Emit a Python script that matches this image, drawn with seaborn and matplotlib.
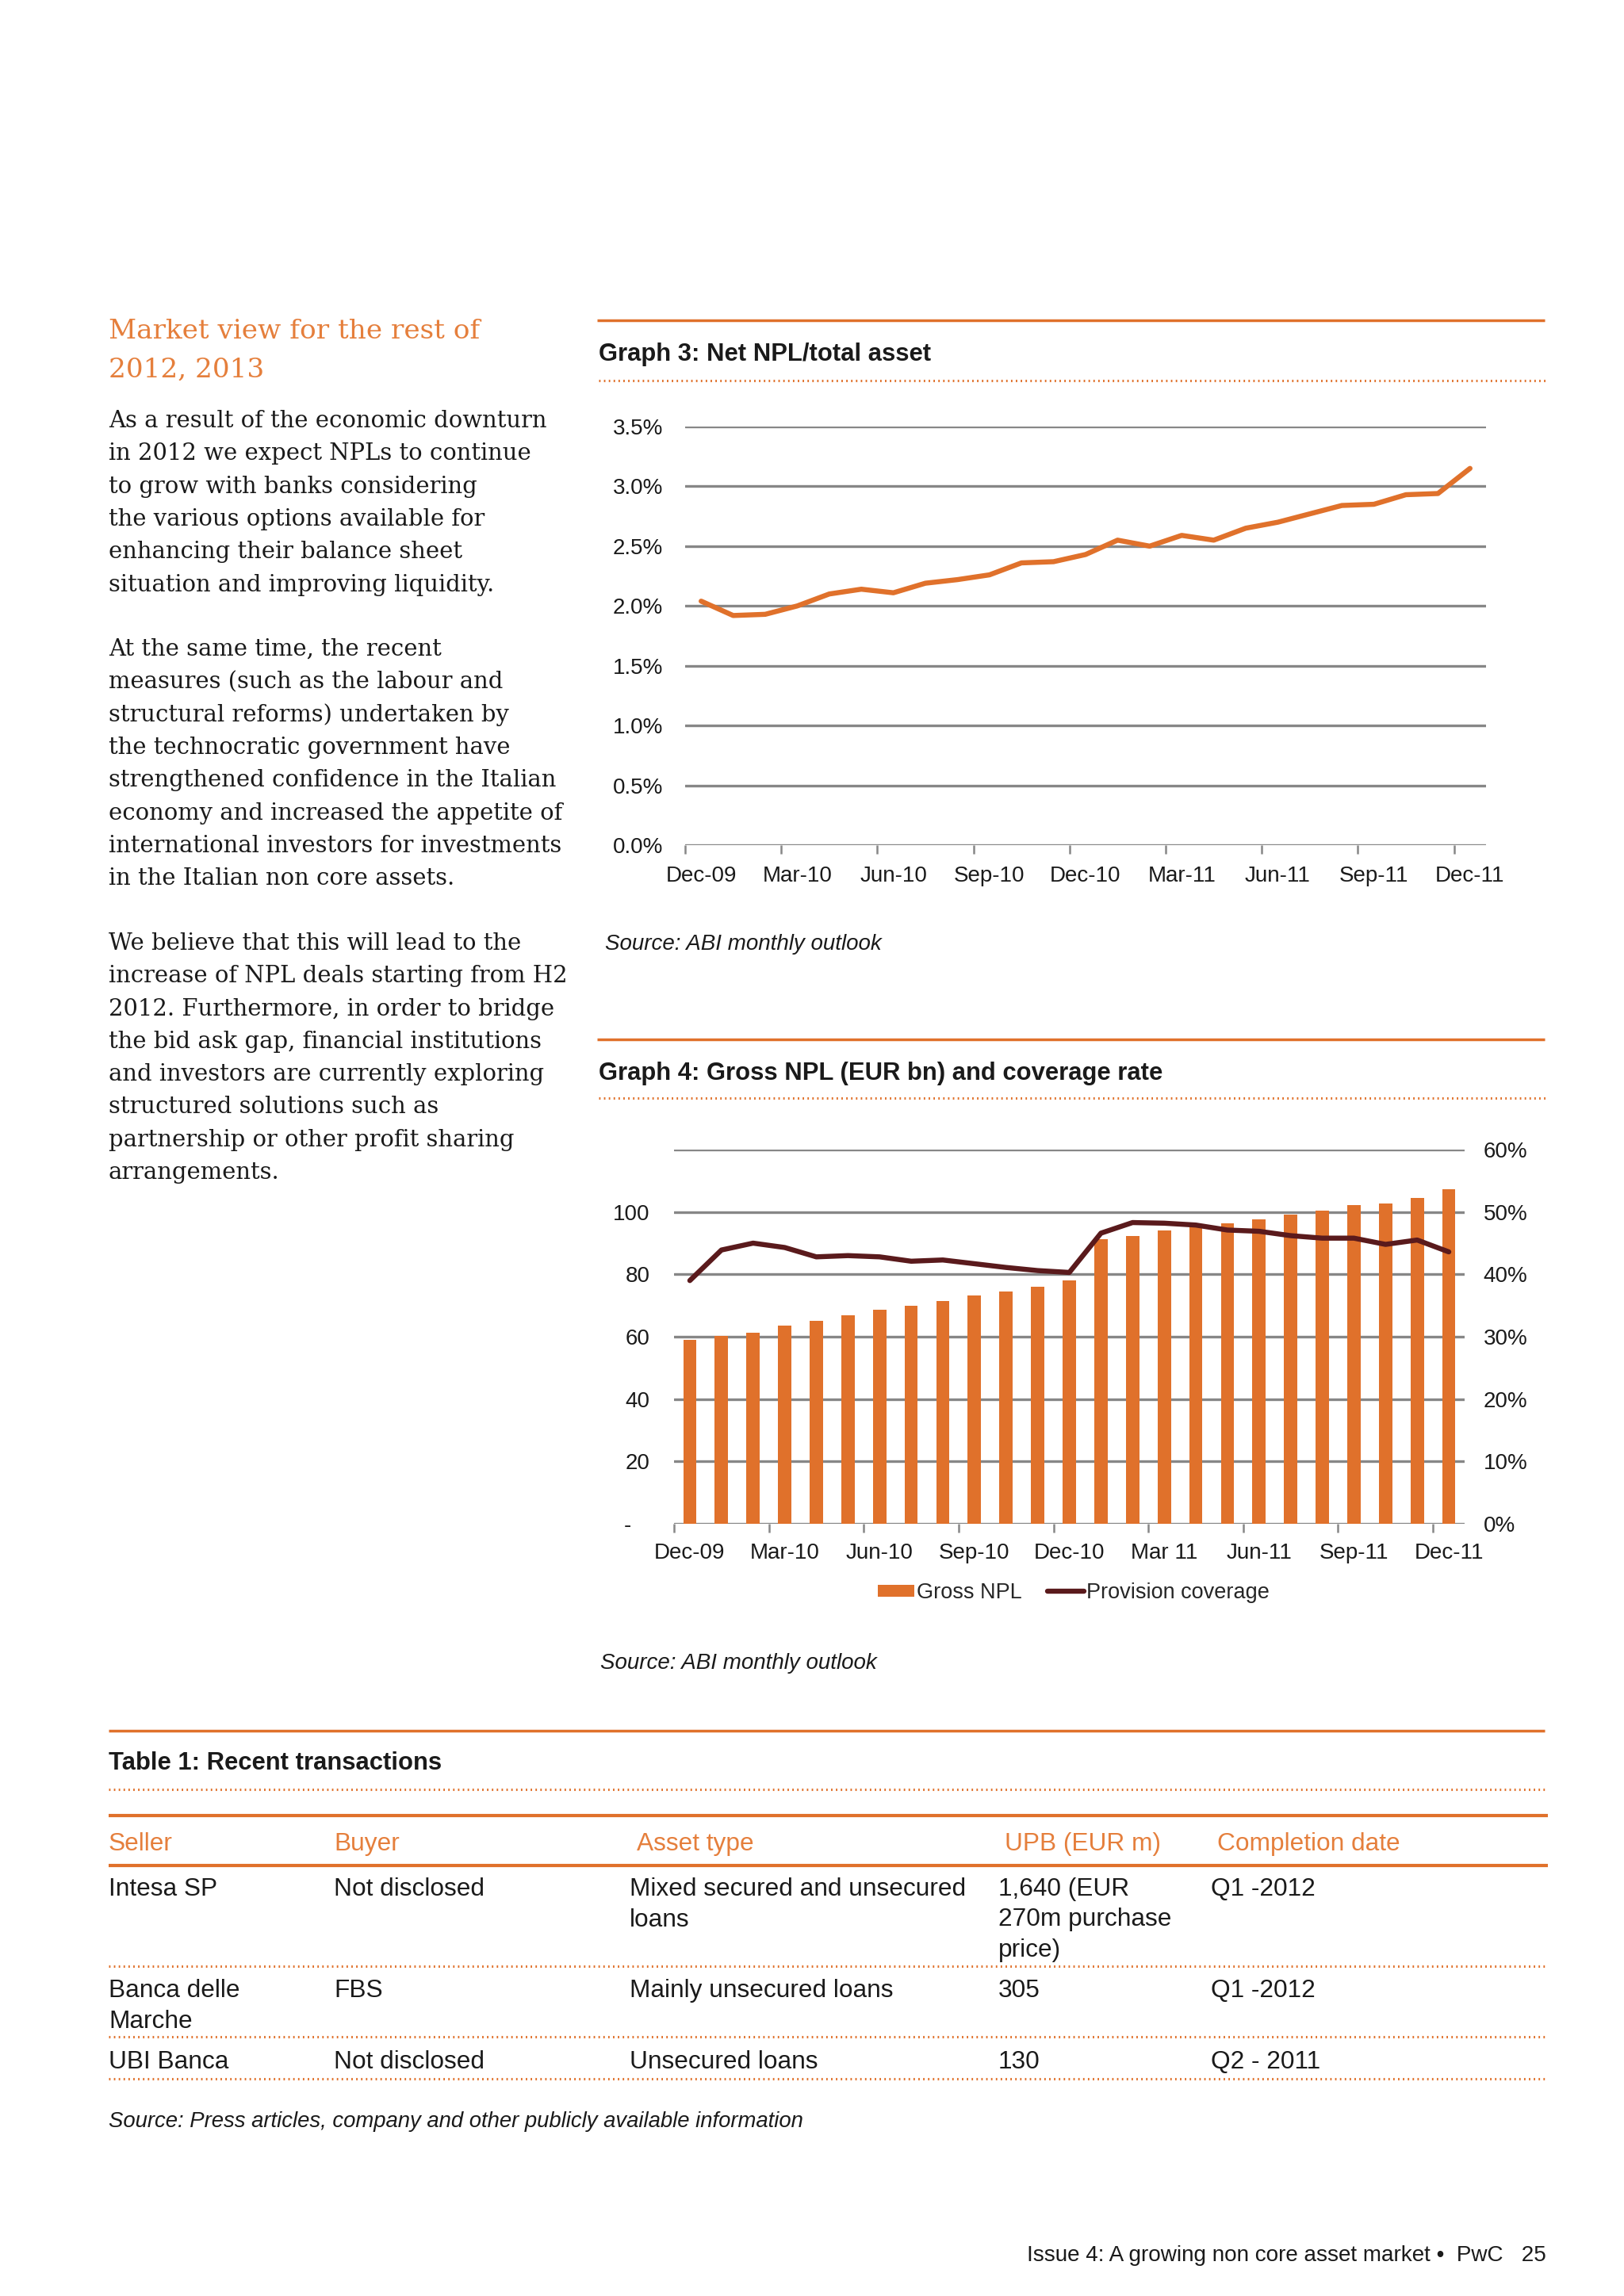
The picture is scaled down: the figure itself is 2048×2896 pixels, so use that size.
import matplotlib
matplotlib.use('Agg')
import matplotlib.pyplot as plt
import seaborn as sns
import numpy as np
import pandas as pd
from matplotlib.lines import Line2D
from matplotlib.patches import Patch

# ---- data ----
months = ['Dec-09', 'Jan-10', 'Feb-10', 'Mar-10', 'Apr-10', 'May-10', 'Jun-10',
          'Jul-10', 'Aug-10', 'Sep-10', 'Oct-10', 'Nov-10', 'Dec-10',
          'Jan-11', 'Feb-11', 'Mar-11', 'Apr-11', 'May-11', 'Jun-11',
          'Jul-11', 'Aug-11', 'Sep-11', 'Oct-11', 'Nov-11', 'Dec-11']

# Graph 3: net NPL / total asset (%)
npl_ratio = [2.04, 1.92, 1.93, 2.00, 2.10, 2.14, 2.11, 2.19, 2.22, 2.26, 2.36, 2.37,
             2.43, 2.55, 2.50, 2.59, 2.55, 2.65, 2.70, 2.77, 2.84, 2.85, 2.93, 2.94, 3.15]
g3_ticks = ['Dec-09', 'Mar-10', 'Jun-10', 'Sep-10', 'Dec-10',
            'Mar-11', 'Jun-11', 'Sep-11', 'Dec-11']
g3_yticks = [0.0, 0.5, 1.0, 1.5, 2.0, 2.5, 3.0, 3.5]

# Graph 4: gross NPL (EUR bn) and provision coverage (%)
gross_npl = [59.1, 60.2, 61.3, 63.6, 65.0, 66.9, 68.7, 70.0, 71.4, 73.2, 74.5, 75.9,
             78.1, 91.3, 92.3, 94.1, 95.5, 96.4, 97.7, 99.1, 100.4, 102.3, 102.8, 104.5, 107.3]
coverage = [39.0, 43.9, 45.0, 44.3, 42.8, 43.0, 42.8, 42.1, 42.3, 41.7, 41.1, 40.6,
            40.3, 46.6, 48.3, 48.2, 47.9, 47.1, 46.9, 46.2, 45.8, 45.8, 44.8, 45.5, 43.6]
g4_ticks = ['Dec-09', 'Mar-10', 'Jun-10', 'Sep-10', 'Dec-10',
            'Mar 11', 'Jun-11', 'Sep-11', 'Dec-11']
g4_left_ticks = [0, 20, 40, 60, 80, 100, 120]
g4_left_labels = ['-   ', '20', '40', '60', '80', '100', '']
g4_right_ticks = [0, 10, 20, 30, 40, 50, 60]

# Table 1
table_header = ['Seller', 'Buyer', 'Asset type', 'UPB (EUR m)', 'Completion date']
table_rows = [
    [['Intesa SP'], ['Not disclosed'], ['Mixed secured and unsecured', 'loans'],
     ['1,640 (EUR', '270m purchase', 'price)'], ['Q1 -2012']],
    [['Banca delle', 'Marche'], ['FBS'], ['Mainly unsecured loans'], ['305'], ['Q1 -2012']],
    [['UBI Banca'], ['Not disclosed'], ['Unsecured loans'], ['130'], ['Q2 - 2011']],
]

heading = ['Market view for the rest of', '2012, 2013']
para1 = ['As a result of the economic downturn',
         'in 2012 we expect NPLs to continue',
         'to grow with banks considering',
         'the various options available for',
         'enhancing their balance sheet',
         'situation and improving liquidity.']
para2 = ['At the same time, the recent',
         'measures (such as the labour and',
         'structural reforms) undertaken by',
         'the technocratic government have',
         'strengthened confidence in the Italian',
         'economy and increased the appetite of',
         'international investors for investments',
         'in the Italian non core assets.']
para3 = ['We believe that this will lead to the',
         'increase of NPL deals starting from H2',
         '2012. Furthermore, in order to bridge',
         'the bid ask gap, financial institutions',
         'and investors are currently exploring',
         'structured solutions such as',
         'partnership or other profit sharing',
         'arrangements.']

# ---- style ----
ORANGE = '#E0712B'
HEAD_ORANGE = '#E57F3C'
DARK = '#5A1A1C'
GRID = '#878787'
TEXT = '#1A1A1A'
SANS = ['Liberation Sans', 'DejaVu Sans']
SERIF = ['DejaVu Serif']

sns.set_style('white')
plt.rcParams['font.family'] = SANS

W, H = 2048, 2896
fig = plt.figure(figsize=(W / 100, H / 100), dpi=100)
fig.patch.set_facecolor('white')


def fx(x):
    return x / W


def fy(y):
    return 1 - y / H


def box(l, t, r, b):
    return [l / W, 1 - b / H, (r - l) / W, (b - t) / H]


def hline(x0, x1, y, dotted=False, lw=2.5):
    ls = (0, (0.6, 1.4)) if dotted else '-'
    fig.add_artist(Line2D([fx(x0), fx(x1)], [fy(y), fy(y)], color=ORANGE,
                          lw=lw if not dotted else 2.2, ls=ls,
                          solid_capstyle='butt'))


def lines_at(lines, x, y0, dy, **kw):
    for i, s in enumerate(lines):
        fig.text(fx(x), fy(y0 + i * dy), s, va='center', ha='left', **kw)


def style_cat_axis(ax, labels, pad=20):
    n = len(months)
    ax.set_xlim(-0.5, n - 0.5)
    ax.set_xticks(np.arange(0, n, 3))
    ax.set_xticklabels(labels)
    ax.set_xticks(np.arange(-0.5, n - 1, 3), minor=True)
    ax.tick_params(axis='x', which='major', length=0, pad=pad, labelsize=20, colors=TEXT)
    ax.tick_params(axis='x', which='minor', length=8, width=1.8, color=GRID, bottom=True)
    ax.set_xlabel('')
    for s in ax.spines.values():
        s.set_visible(False)
    ax.yaxis.grid(True, color=GRID, lw=2.4)
    ax.xaxis.grid(False)
    ax.set_axisbelow(True)


# ---- left column text ----
lines_at(heading, 137, 418, 49, family=SERIF, fontsize=24.7, color=HEAD_ORANGE)
lines_at(para1, 137, 531, 41.3, family=SERIF, fontsize=20.9, color=TEXT)
lines_at(para2, 137, 819, 41.3, family=SERIF, fontsize=20.9, color=TEXT)
lines_at(para3, 137, 1190, 41.3, family=SERIF, fontsize=20.9, color=TEXT)

# ---- Graph 3 ----
hline(753, 1948, 404)
fig.text(fx(755), fy(447), 'Graph 3: Net NPL/total asset', fontsize=22.3,
         fontweight='bold', va='center', color=TEXT)
hline(755, 1952, 480, dotted=True)

df3 = pd.DataFrame({'pos': np.arange(len(months)), 'ratio': npl_ratio})
ax3 = fig.add_axes(box(864, 538, 1874, 1066))
sns.lineplot(data=df3, x='pos', y='ratio', ax=ax3, color=ORANGE, lw=4.6)
ax3.set_ylim(0, 3.5)
ax3.set_yticks(g3_yticks)
ax3.set_yticklabels([f'{v:.1f}%' for v in g3_yticks])
ax3.tick_params(axis='y', length=0, pad=20, labelsize=20, colors=TEXT)
ax3.set_ylabel('')
style_cat_axis(ax3, g3_ticks, pad=19)

fig.text(fx(763), fy(1191), 'Source: ABI monthly outlook', fontsize=20,
         style='italic', va='center', color=TEXT)

# ---- Graph 4 ----
hline(753, 1948, 1311)
fig.text(fx(755), fy(1354), 'Graph 4: Gross NPL (EUR bn) and coverage rate', fontsize=22.3,
         fontweight='bold', va='center', color=TEXT)
hline(755, 1952, 1385, dotted=True)

df4 = pd.DataFrame({'pos': np.arange(len(months)), 'npl': gross_npl, 'cov': coverage})
ax4 = fig.add_axes(box(850, 1450, 1847, 1922))
sns.barplot(data=df4, x='pos', y='npl', ax=ax4, native_scale=True, width=0.42,
            color=ORANGE, saturation=1, edgecolor='none')
ax4.set_ylim(0, 120)
ax4.set_yticks(g4_left_ticks)
ax4.set_yticklabels(g4_left_labels)
ax4.tick_params(axis='y', length=0, pad=22, labelsize=20, colors=TEXT)
ax4.set_ylabel('')
style_cat_axis(ax4, g4_ticks, pad=17)

ax5 = ax4.twinx()
sns.lineplot(data=df4, x='pos', y='cov', ax=ax5, color=DARK, lw=4.6)
ax5.set_ylim(0, 60)
ax5.set_yticks(g4_right_ticks)
ax5.set_yticklabels([f'{v}%' for v in g4_right_ticks])
ax5.tick_params(axis='y', length=0, pad=17, labelsize=20, colors=TEXT)
ax5.set_ylabel('')
ax5.grid(False)
for s in ax5.spines.values():
    s.set_visible(False)
ax4.set_xlim(-0.5, len(months) - 0.5)

handles = [Patch(facecolor=ORANGE, edgecolor='none'),
           Line2D([0], [0], color=DARK, lw=4.6)]
fig.legend(handles, ['Gross NPL', 'Provision coverage'], loc='center',
           bbox_to_anchor=(fx(1354), fy(2009)), ncol=2, frameon=False,
           fontsize=19.5, handlelength=1.7, handleheight=0.5,
           handletextpad=0.1, columnspacing=1.2)

fig.text(fx(757), fy(2098), 'Source: ABI monthly outlook', fontsize=20,
         style='italic', va='center', color=TEXT)

# ---- Table 1 ----
hline(137, 1948, 2183)
fig.text(fx(137), fy(2224), 'Table 1: Recent transactions', fontsize=22.3,
         fontweight='bold', va='center', color=TEXT)
hline(137, 1952, 2257, dotted=True)
hline(137, 1952, 2290, lw=3)
hline(137, 1952, 2353, lw=3)

header_x = [137, 421, 803, 1267, 1535]
cell_x = [137, 421, 794, 1259, 1527]
for x, s in zip(header_x, table_header):
    fig.text(fx(x), fy(2326), s, fontsize=22.8, color=HEAD_ORANGE, va='center')

row_y = [2383, 2511, 2601]
row_sep = [2480, 2569, 2622]
for y0, row, ysep in zip(row_y, table_rows, row_sep):
    for x, cell in zip(cell_x, row):
        lines_at(cell, x, y0, 38.5, fontsize=22.8, color=TEXT)
    hline(137, 1952, ysep, dotted=True)

fig.text(fx(137), fy(2676), 'Source: Press articles, company and other publicly available information',
         fontsize=19.8, style='italic', va='center', color=TEXT)

# ---- footer ----
fig.text(fx(1950), fy(2845), 'Issue 4: A growing non core asset market \u2022  PwC   25',
         fontsize=20.1, ha='right', va='center', color=TEXT)

fig.savefig('out.png', dpi=100, facecolor='white')
